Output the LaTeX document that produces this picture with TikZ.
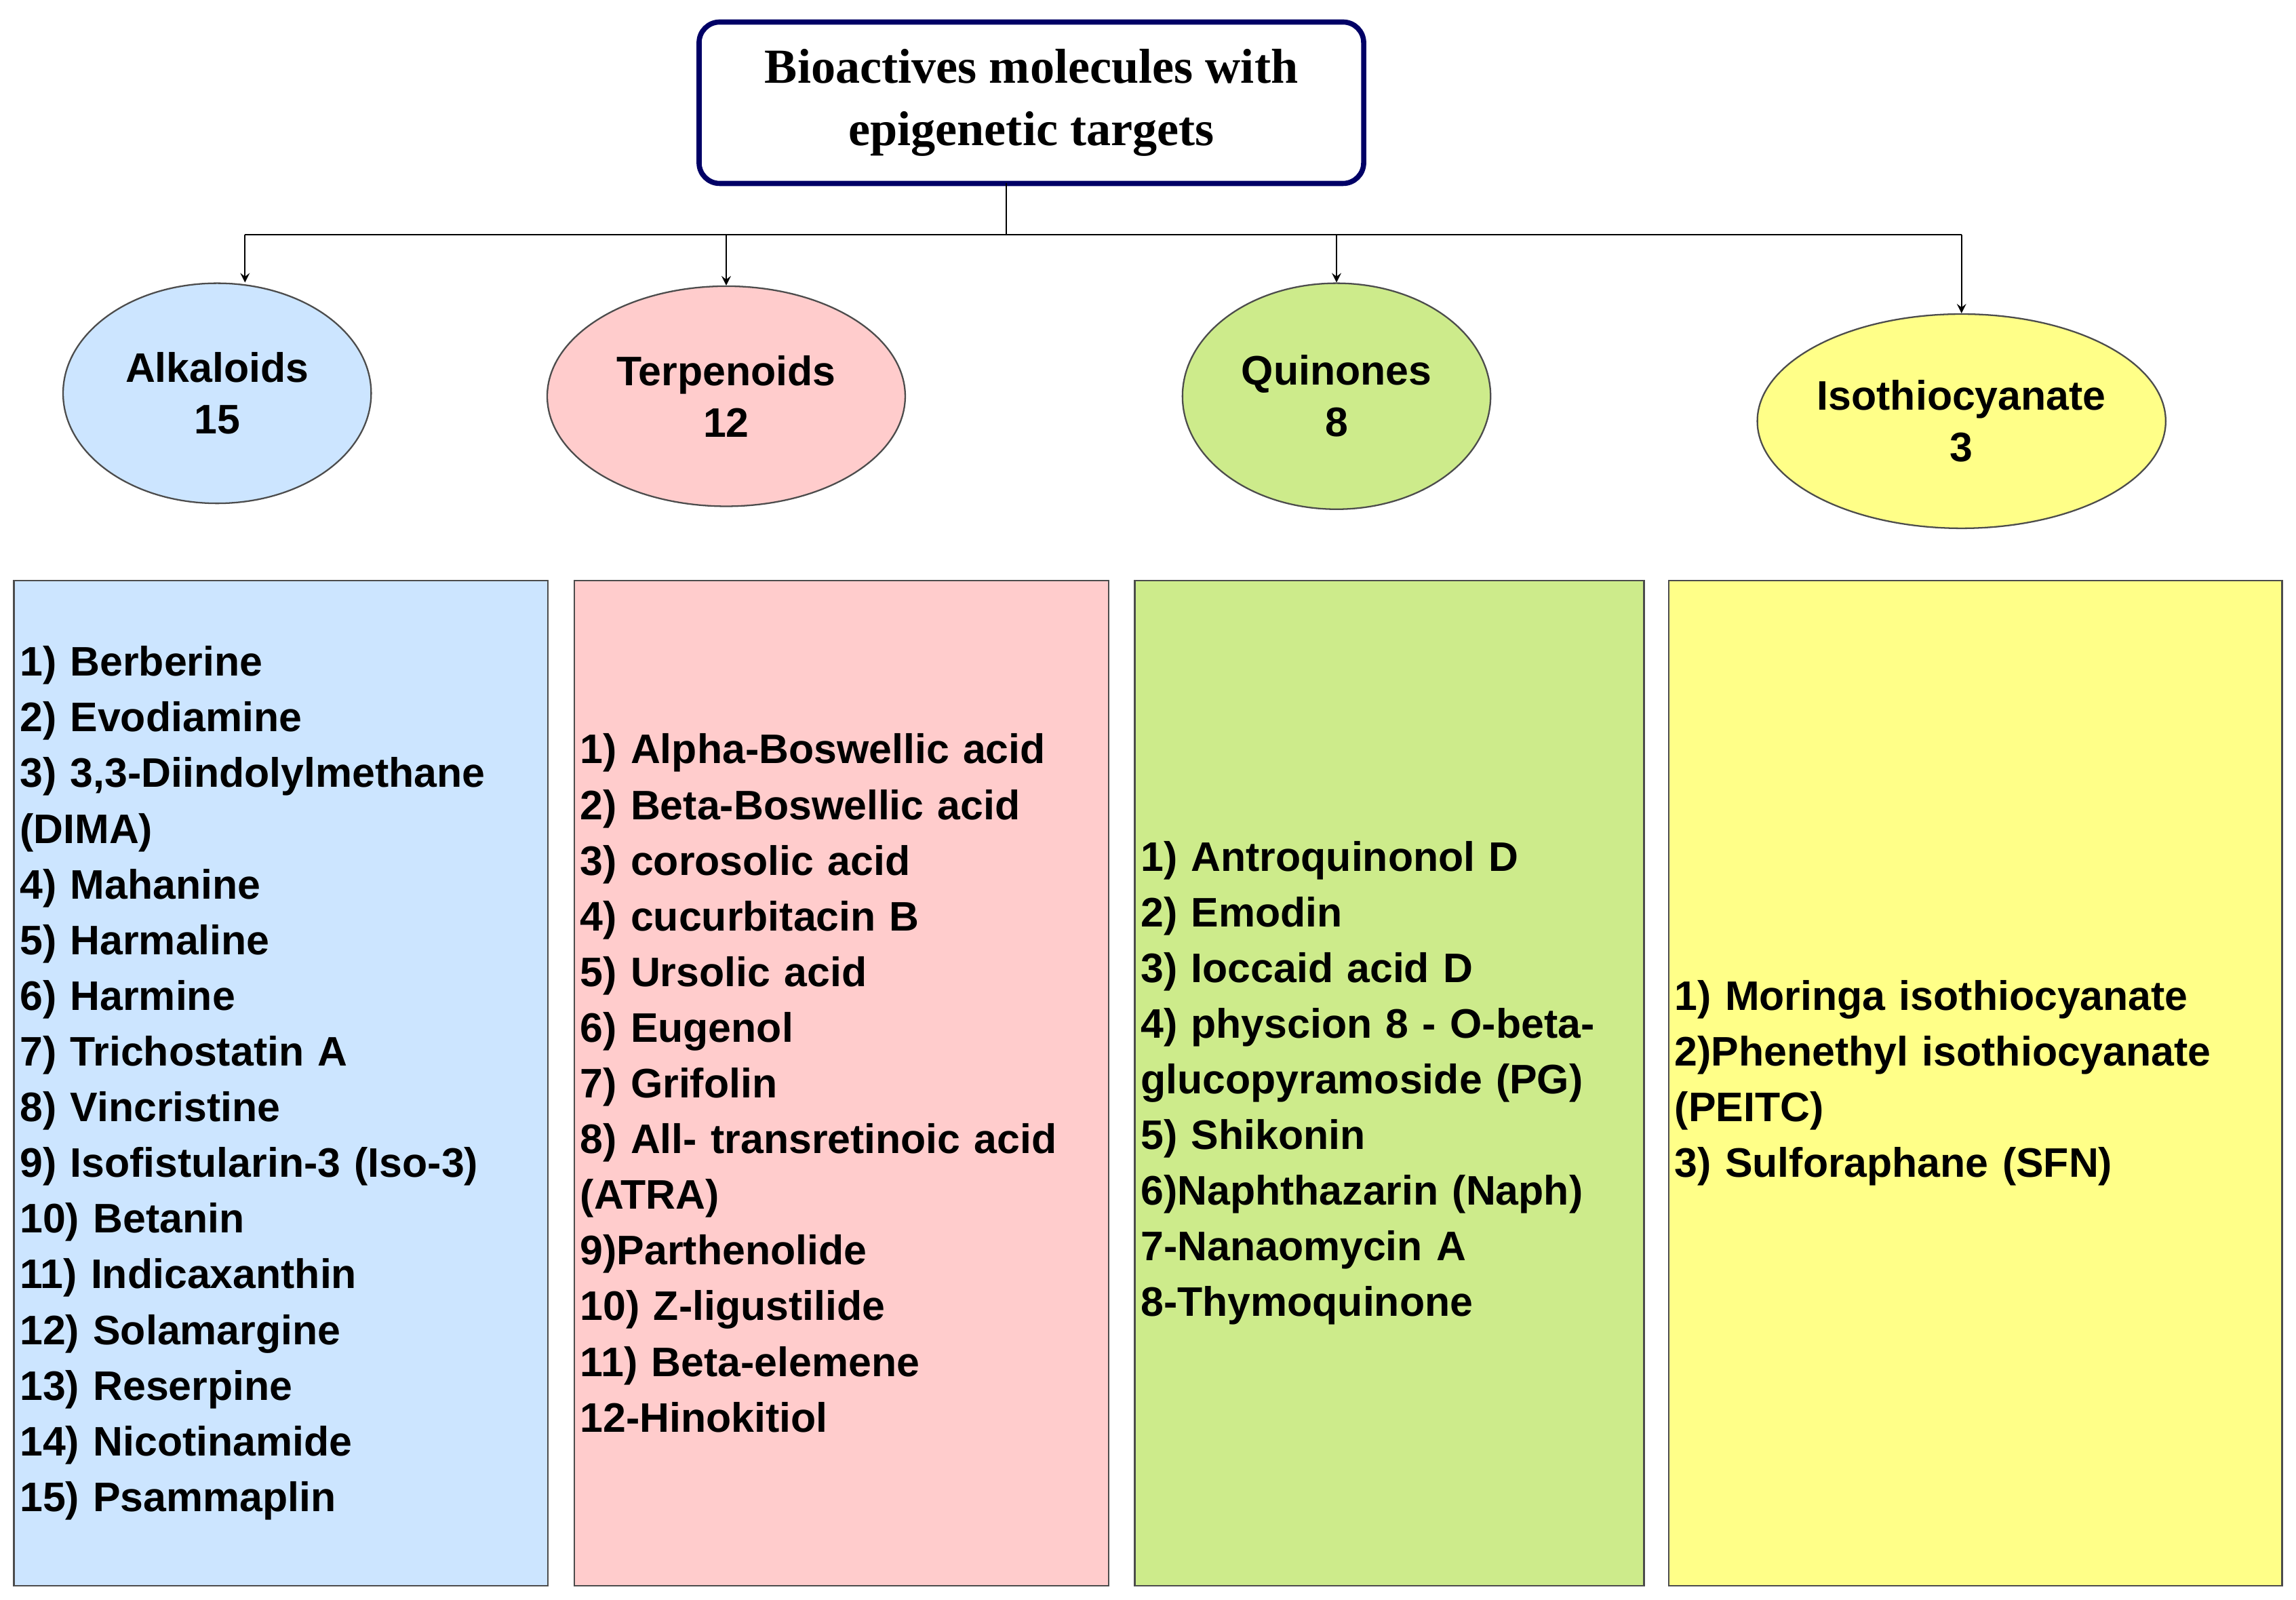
\documentclass[tikz,border=0pt]{standalone}
\usepackage{fontspec}
\usetikzlibrary{shapes.geometric}
\setmainfont{Liberation Sans}
\newfontfamily\titlefont{Liberation Serif}
\definecolor{cblue}{HTML}{CCE5FF}
\definecolor{cred}{HTML}{FFCCCC}
\definecolor{cgreen}{HTML}{CDEB8B}
\definecolor{cyellow}{HTML}{FFFF88}
\definecolor{navy}{HTML}{000066}
\begin{document}
\begin{tikzpicture}[x=0.02cm,y=-0.02cm,
    group/.style={ellipse, draw=black!70, line width=0.6pt, font=\fontsize{16}{20}\selectfont\bfseries, align=center, inner sep=0pt},
    list/.style={draw=black!70, line width=0.6pt, anchor=north west, inner xsep=2pt, font=\fontsize{16}{21.6}\selectfont\bfseries, align=left},
    arr/.style={-stealth, line width=0.6pt}]
\useasboundingbox (0,0) rectangle (1565,1090);
\node[draw=navy, line width=2pt, rounded corners=8pt, minimum width=453*0.02cm, minimum height=110*0.02cm,
  font=\titlefont\fontsize{19}{24}\selectfont\bfseries, align=center] (t) at (703,70)
  {Bioactives molecules with\\epigenetic targets};
\node[group, fill=cblue, minimum width=210*0.02cm, minimum height=150*0.02cm] (e1) at (148,268) {Alkaloids\\15};
\node[group, fill=cred, minimum width=244*0.02cm, minimum height=150*0.02cm] (e2) at (495,270) {Terpenoids\\12};
\node[group, fill=cgreen, minimum width=210*0.02cm, minimum height=154*0.02cm] (e3) at (911,270) {Quinones\\8};
\node[group, fill=cyellow, minimum width=264*0.02cm, minimum height=146*0.02cm] (e4) at (1337,287) {Isothiocyanate\\3};
\coordinate (j) at (686,160);
\coordinate (a1) at (167,160);
\coordinate (a4) at (1337,160);
\draw[line width=0.6pt] (686,125) -- (j);
\draw[line width=0.6pt] (a1) -- (a4);
\draw[arr] (a1) -- (a1 |- e1.north);
\draw[arr] (495,160) -- (e2.north);
\draw[arr] (911,160) -- (e3.north);
\draw[arr] (a4) -- (e4.north);
\node[list, fill=cblue, minimum width=364*0.02cm, minimum height=685*0.02cm, text width=356*0.02cm] (b1) at (9,395)
 {1) Berberine\\2) Evodiamine\\3) 3,3-Diindolylmethane\\(DIMA)\\4) Mahanine\\5) Harmaline\\6) Harmine\\7) Trichostatin A\\8) Vincristine\\9) Isofistularin-3 (Iso-3)\\10) Betanin\\11) Indicaxanthin\\12) Solamargine\\13) Reserpine\\14) Nicotinamide\\15) Psammaplin};
\node[list, fill=cred, minimum width=364*0.02cm, minimum height=685*0.02cm, text width=356*0.02cm] (b2) at (391,395)
 {1) Alpha-Boswellic acid\\2) Beta-Boswellic acid\\3) corosolic acid\\4) cucurbitacin B\\5) Ursolic acid\\6) Eugenol\\7) Grifolin\\8) All- transretinoic acid\\(ATRA)\\9)Parthenolide\\10) Z-ligustilide\\11) Beta-elemene\\12-Hinokitiol};
\node[list, fill=cgreen, minimum width=347*0.02cm, minimum height=685*0.02cm, text width=339*0.02cm] (b3) at (773,395)
 {1) Antroquinonol D\\2) Emodin\\3) Ioccaid acid D\\4) physcion 8 - O-beta-\\glucopyramoside (PG)\\5) Shikonin\\6)Naphthazarin (Naph)\\7-Nanaomycin A\\8-Thymoquinone};
\node[list, fill=cyellow, minimum width=418*0.02cm, minimum height=685*0.02cm, text width=410*0.02cm] (b4) at (1137,395)
 {1) Moringa isothiocyanate\\2)Phenethyl isothiocyanate\\(PEITC)\\3) Sulforaphane (SFN)};
\end{tikzpicture}
\end{document}
